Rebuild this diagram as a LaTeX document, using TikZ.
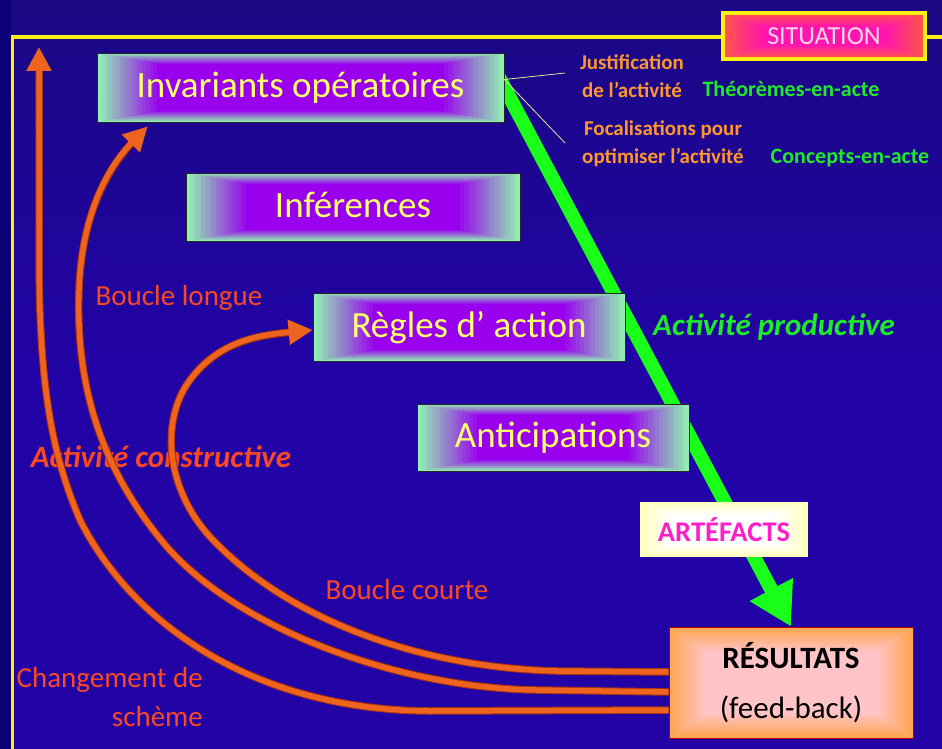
\documentclass[tikz,border=0pt]{standalone}
\usepackage{fontspec}
\setmainfont{Carlito}
\usetikzlibrary{arrows.meta,calc}
\pgfdeclarelayer{back}
\pgfdeclarelayer{mid}
\pgfsetlayers{back,mid,main}
\definecolor{bgtop}{RGB}{26,8,132}
\definecolor{bgc}{RGB}{34,3,165}
\definecolor{bgdark}{RGB}{12,0,118}
\definecolor{frameY}{RGB}{255,240,20}
\definecolor{mint}{RGB}{145,238,178}
\definecolor{purp}{RGB}{152,0,238}
\definecolor{boxtxt}{RGB}{255,255,110}
\definecolor{grA}{RGB}{25,255,25}
\definecolor{grT}{RGB}{30,235,40}
\definecolor{annO}{RGB}{255,150,45}
\definecolor{redO}{RGB}{250,72,35}
\definecolor{arrO}{RGB}{238,100,30}
\definecolor{arrOd}{RGB}{165,50,15}
\definecolor{resO}{RGB}{255,165,80}
\definecolor{resP}{RGB}{255,196,200}
\definecolor{artY}{RGB}{255,255,185}
\definecolor{artM}{RGB}{255,30,200}
\definecolor{sitR}{RGB}{255,85,75}
\definecolor{sitM}{RGB}{255,20,175}
\definecolor{sitT}{RGB}{255,215,230}
\definecolor{thinY}{RGB}{240,225,150}
\tikzset{
  fadefill/.style n args={4}{path picture={
      \foreach \i [evaluate=\i as \p using int(\i*100/16)] in {0,...,16}{
        \fill[fill=#4!\p!#3] ($(path picture bounding box.south west)+({\i*#1/16},{\i*#2/16})$)
          rectangle ($(path picture bounding box.north east)-({\i*#1/16},{\i*#2/16})$);
      }}},
  conceptbox/.style={draw=black!85, line width=0.8pt, inner sep=0pt, text=boxtxt,
     text depth=0pt, text height=20pt,
     font=\fontsize{37}{40}\selectfont, fadefill={60pt}{11pt}{mint}{purp}},
  annot/.style={text=annO, font=\bfseries\fontsize{21}{28}\selectfont, align=center, inner sep=0pt},
  grtxt/.style={text=grT, font=\bfseries\fontsize{22}{26}\selectfont, inner sep=0pt},
  looplbl/.style={text=redO, font=\fontsize{29}{39}\selectfont, inner sep=0pt},
  actlbl/.style={font=\bfseries\itshape\fontsize{31}{34}\selectfont, inner sep=0pt},
  oarrow/.style={draw=arrO, line width=5.5pt, -{Triangle[length=24pt,width=24pt]},
     preaction={draw=arrOd, line width=7.5pt, -, shorten >=16pt}},
  garrow/.style={draw=grA, line width=14pt, -{Triangle[length=42pt,width=46pt]}},
  thinline/.style={draw=thinY, line width=0.8pt},
}
\begin{document}
\begin{tikzpicture}[x=1pt,y=-1pt]
\useasboundingbox (0,0) rectangle (942,749);
\begin{pgfonlayer}{back}
  \shade[top color=bgtop, bottom color=bgc, middle color=bgc] (0,0) rectangle (942,749);
  \fill[bgdark] (0,0) rectangle (11,749);
  \draw[frameY, line width=3.5pt] (12.5,760) -- (12.5,37) -- (950,37);
\end{pgfonlayer}

% concept boxes
\node[conceptbox, minimum width=407, minimum height=69] (inv) at (300.5,87.5) {Invariants opératoires};
\node[conceptbox, minimum width=334, minimum height=68] (inf) at (353,207) {Inférences};
\node[conceptbox, minimum width=312, minimum height=68] (reg) at (469,327) {Règles d’ action};
\node[conceptbox, minimum width=272, minimum height=67] (ant) at (553,437.5) {Anticipations};

% situation
\node[draw=frameY, line width=4pt, minimum width=202, minimum height=46, inner sep=0pt,
      fadefill={40pt}{14pt}{sitR}{sitM}, text=sitT, font=\fontsize{26}{28}\selectfont]
      (sit) at (824,36) {SITUATION};

% results
\node[draw=red!70!black, line width=0.8pt, minimum width=244, minimum height=111, inner sep=0pt,
      fadefill={35pt}{25pt}{resO}{resP}, align=center, text=black,
      font=\fontsize{31}{50}\selectfont]
      (res) at (791,682.5) {\textbf{RÉSULTATS}\\(feed-back)};

% green productive arrow (behind boxes)
\begin{pgfonlayer}{mid}
  \draw[garrow] ($(inv.east)!-0.05!(res.north)$) -- (res.north);
\end{pgfonlayer}

% artefacts
\node[minimum width=168, minimum height=55, inner sep=0pt,
      fadefill={30pt}{12pt}{artY}{white}, text=artM,
      font=\bfseries\fontsize{28.5}{30}\selectfont] (art) at (724,529.5) {ARTÉFACTS};

% annotations
\node[annot] (just) at (632,76) {Justification\\de l’activité};
\node[annot] (foc) at (663,144) {Focalisations pour\\optimiser l’activité};
\node[grtxt] (theo) at (791,89) {Théorèmes-en-acte};
\node[grtxt] (conc) at (850,158) {Concepts-en-acte};
\coordinate (jend) at (565,73);
\coordinate (fend) at (565,143);
\draw[thinline] ($(inv.east)+(0,-8)$) -- (jend);
\draw[thinline] ($(inv.east)+(0,-8)$) -- (fend);

\node[actlbl, text=grT] (prod) at (774,327) {Activité productive};
\node[actlbl, text=redO] (cons) at (161,457) {Activité constructive};
\node[looplbl] (bl) at (179,298) {Boucle longue};
\node[looplbl] (bc) at (407,590) {Boucle courte};
\node[looplbl, align=right, anchor=east] (chg) at (203,697) {Changement de\\schème};

% orange loops
\coordinate (outtip) at (39,47);
\draw[oarrow] ($(res.west)+(0,27.5)$) -- (430,711)
   .. controls (250,710) and (130,620) .. (80,520)
   .. controls (50,450) and (39,380) .. (39,250) -- (outtip);
\draw[oarrow] ($(res.west)+(0,9.5)$) -- (536,690)
   .. controls (400,688) and (240,630) .. (167,547)
   .. controls (110,480) and (75,400) .. (79,290)
   .. controls (82,210) and (110,165) .. ($(inv.south west)+(51,4)$);
\draw[oarrow] ($(res.west)+(0,-10.5)$) -- (558,671)
   .. controls (420,668) and (290,620) .. (213,540)
   .. controls (165,490) and (160,420) .. (190,380)
   .. controls (220,340) and (260,335) .. ($(reg.west)+(0,3)$);
\end{tikzpicture}
\end{document}
